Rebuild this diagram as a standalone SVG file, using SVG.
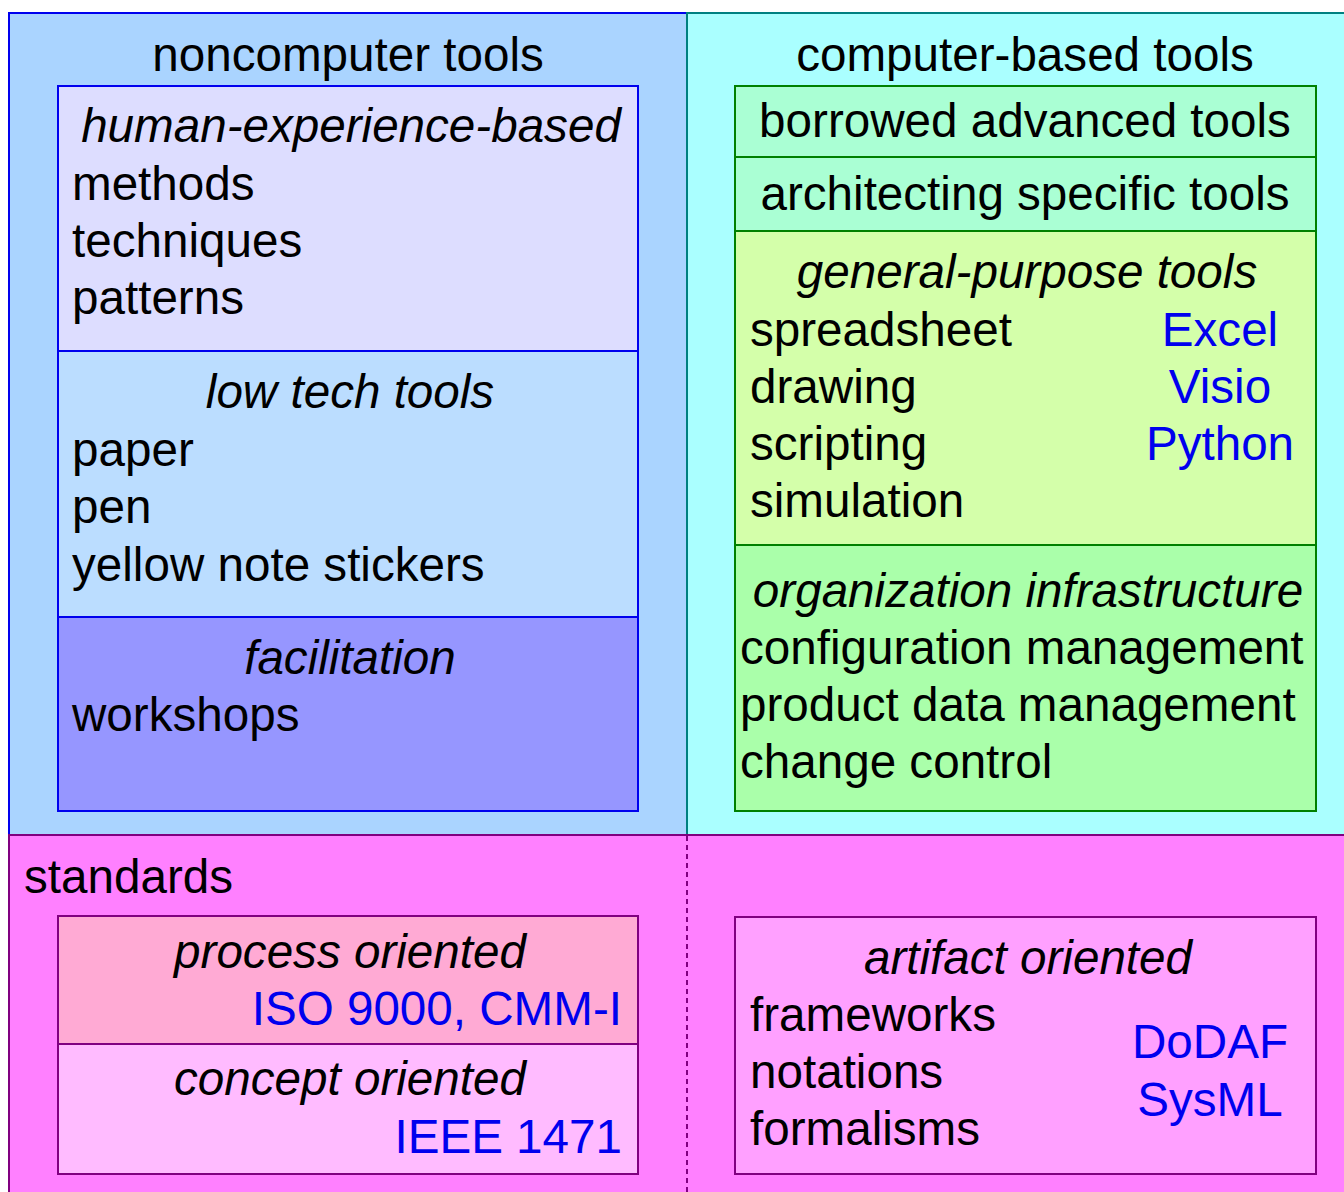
<svg xmlns="http://www.w3.org/2000/svg" width="1344" height="1192" viewBox="0 0 1344 1192">
<style>
text{font-family:"Liberation Sans",Arial,sans-serif;font-size:47.6px;fill:#000}
.i{font-style:italic}
.c{text-anchor:middle}
.r{text-anchor:end}
.b{fill:#0000ee}
.bl{stroke:#0000ee;stroke-width:2}
.gr{stroke:#008000;stroke-width:2}
.pu{stroke:#800080;stroke-width:2}
</style>
<rect width="1344" height="1192" fill="#ffffff"/>
<g id="noncomputer">
<rect x="9" y="13" width="678" height="822" fill="#aad4ff" class="bl"/>
<text x="348" y="71" class="c">noncomputer tools</text>
</g>
<g id="computer">
<rect x="687" y="13" width="670" height="822" fill="#aaffff" stroke="#008080" stroke-width="2"/>
<text x="1025" y="71" class="c">computer-based tools</text>
</g>
<g id="standards">
<rect x="9" y="835" width="1348" height="370" fill="#ff80ff" class="pu"/>
<line x1="687" y1="836" x2="687" y2="1192" stroke="#800080" stroke-width="2" stroke-dasharray="5,4"/>
<text x="24" y="893">standards</text>
</g>
<g id="human">
<rect x="58" y="86" width="580" height="265" fill="#ddddff" class="bl"/>
<text x="351" y="142" class="c i">human-experience-based</text>
<text x="72" y="200">methods</text>
<text x="72" y="257">techniques</text>
<text x="72" y="314">patterns</text>
</g>
<g id="lowtech">
<rect x="58" y="351" width="580" height="266" fill="#bbddff" class="bl"/>
<text x="350" y="408" class="c i">low tech tools</text>
<text x="72" y="466">paper</text>
<text x="72" y="523">pen</text>
<text x="72" y="581">yellow note stickers</text>
</g>
<g id="facilitation">
<rect x="58" y="617" width="580" height="194" fill="#9696ff" class="bl"/>
<text x="350" y="674" class="c i">facilitation</text>
<text x="72" y="731">workshops</text>
</g>
<g id="borrowed">
<rect x="735" y="86" width="581" height="71" fill="#aaffd4" class="gr"/>
<text x="1025" y="137" class="c">borrowed advanced tools</text>
</g>
<g id="architecting">
<rect x="735" y="157" width="581" height="74" fill="#aaffd4" class="gr"/>
<text x="1025" y="210" class="c">architecting specific tools</text>
</g>
<g id="general">
<rect x="735" y="231" width="581" height="314" fill="#d4ffaa" class="gr"/>
<text x="1027" y="288" class="c i">general-purpose tools</text>
<text x="750" y="346">spreadsheet</text>
<text x="750" y="403">drawing</text>
<text x="750" y="460">scripting</text>
<text x="750" y="517">simulation</text>
<text x="1220" y="346" class="c b">Excel</text>
<text x="1220" y="403" class="c b">Visio</text>
<text x="1220" y="460" class="c b">Python</text>
</g>
<g id="organization">
<rect x="735" y="545" width="581" height="266" fill="#aaffaa" class="gr"/>
<text x="1028" y="607" class="c i">organization infrastructure</text>
<text x="740" y="664">configuration management</text>
<text x="740" y="721">product data management</text>
<text x="740" y="778">change control</text>
</g>
<g id="process">
<rect x="58" y="916" width="580" height="128" fill="#ffaad4" class="pu"/>
<text x="350" y="968" class="c i">process oriented</text>
<text x="622" y="1025" class="r b">ISO 9000, CMM-I</text>
</g>
<g id="concept">
<rect x="58" y="1044" width="580" height="130" fill="#ffbbff" class="pu"/>
<text x="350" y="1095" class="c i">concept oriented</text>
<text x="622" y="1153" class="r b">IEEE 1471</text>
</g>
<g id="artifact">
<rect x="735" y="917" width="581" height="257" fill="#ffa0ff" class="pu"/>
<text x="1028" y="974" class="c i">artifact oriented</text>
<text x="750" y="1031">frameworks</text>
<text x="750" y="1088">notations</text>
<text x="750" y="1145">formalisms</text>
<text x="1210" y="1058" class="c b">DoDAF</text>
<text x="1210" y="1116" class="c b">SysML</text>
</g>
<g id="connectors"></g>
</svg>
